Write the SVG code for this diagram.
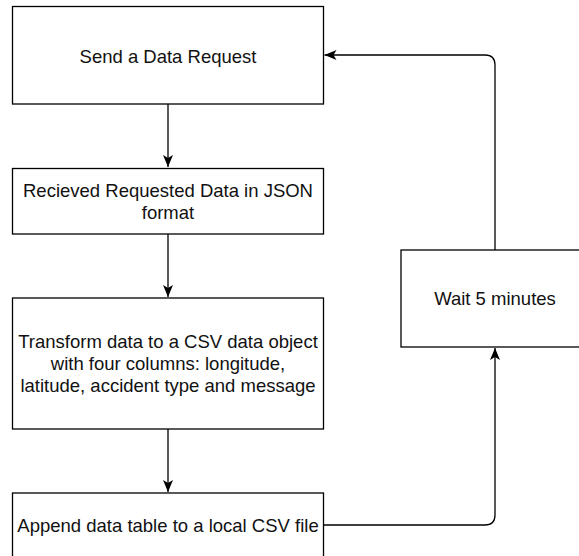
<svg xmlns="http://www.w3.org/2000/svg" width="579" height="556" viewBox="0 0 579 556">
<style>
.box{fill:#fff;stroke:#000;stroke-width:1.3}
.lbl{font-family:"Liberation Sans",Arial,sans-serif;font-size:18.5px;fill:#111;text-anchor:middle}
.edge{fill:none;stroke:#000;stroke-width:1.3}
</style>
<defs>
<marker id="arr" markerUnits="userSpaceOnUse" markerWidth="14" markerHeight="12" refX="12" refY="5" orient="auto">
<path d="M0,0 L12,5 L0,10 L3,5 Z" fill="#000"/>
</marker>
</defs>
<rect width="579" height="556" fill="#fff"/>
<g id="connectors">
<path class="edge" d="M168,104 L168,167" marker-end="url(#arr)"/>
<path class="edge" d="M168,234 L168,297" marker-end="url(#arr)"/>
<path class="edge" d="M168,429 L168,492" marker-end="url(#arr)"/>
<path class="edge" d="M323.5,525 L485,525 Q495,525 495,515 L495,348" marker-end="url(#arr)"/>
<path class="edge" d="M495,250 L495,65 Q495,55 485,55 L324.5,55" marker-end="url(#arr)"/>
</g>
<g id="send">
<rect class="box" x="12.5" y="6.5" width="311" height="97.5"/>
<text class="lbl" x="168" y="63">Send a Data Request</text>
</g>
<g id="received">
<rect class="box" x="12.5" y="168.5" width="311" height="65.5"/>
<text class="lbl" x="168" y="197">Recieved Requested Data in JSON</text>
<text class="lbl" x="168" y="219">format</text>
</g>
<g id="transform">
<rect class="box" x="12.5" y="298" width="311" height="131"/>
<text class="lbl" x="168" y="348">Transform data to a CSV data object</text>
<text class="lbl" x="168" y="370">with four columns: longitude,</text>
<text class="lbl" x="168" y="392">latitude, accident type and message</text>
</g>
<g id="append">
<rect class="box" x="12.5" y="493" width="311" height="64"/>
<text class="lbl" x="168" y="531.5">Append data table to a local CSV file</text>
</g>
<g id="wait">
<rect class="box" x="401" y="250" width="188" height="97"/>
<text class="lbl" x="495" y="305">Wait 5 minutes</text>
</g>
</svg>
